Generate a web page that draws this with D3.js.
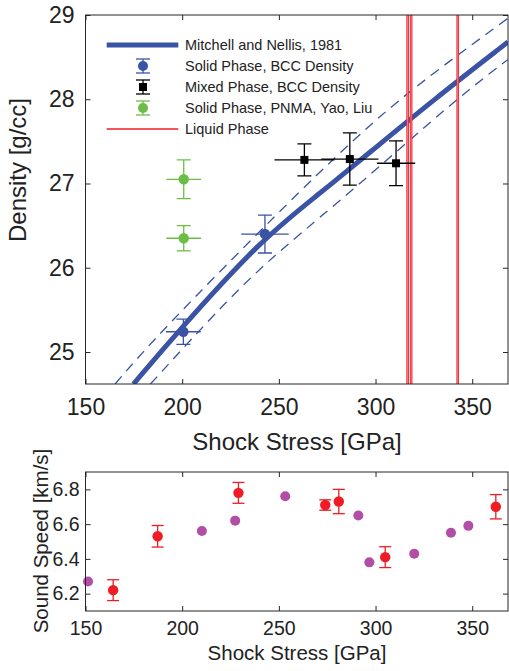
<!DOCTYPE html>
<html>
<head>
<meta charset="utf-8">
<script src="https://cdn.jsdelivr.net/npm/d3@7"></script>
<style>
  body { margin: 0; background: #fff; }
  text { font-family: "Liberation Sans", Arial, sans-serif; fill: #222; }
</style>
</head>
<body>
<script>
// ---- data ----
const stressTicks = [150, 200, 250, 300, 350];
const densityTicks = [25, 26, 27, 28, 29];
const speedTicks = [6.2, 6.4, 6.6, 6.8];

// Mitchell and Nellis 1981 fit and its bounds
const fitStress = [174.8, 198.1, 240.7, 270, 297.1, 329.8, 368.5];
const fitDensity = [24.62, 25.25, 26.33, 26.86, 27.37, 27.99, 28.68];
const upperStress = [165.3, 188.7, 252.4, 288.5, 317.8, 368.4];
const upperDensity = [24.62, 25.24, 26.72, 27.52, 28.11, 28.96];
const lowerStress = [183.6, 224.9, 250.7, 290.3, 341, 368.4];
const lowerDensity = [24.62, 25.66, 26.21, 26.96, 27.99, 28.47];

// Solid phase, BCC
const bccStress = [200.6, 242.8];
const bccDensity = [25.24, 26.40];
const bccStressErr = [9, 12.3];
const bccDensityErr = [0.15, 0.225];

// Mixed phase, BCC
const mixStress = [263.2, 286.7, 310.6];
const mixDensity = [27.28, 27.29, 27.24];
const mixStressErr = [15.5, 14.8, 9.9];
const mixDensityErr = [0.19, 0.31, 0.265];

// Solid phase, PNMA (Yao, Liu)
const pnmaStress = [200.8, 200.8];
const pnmaDensity = [27.05, 26.35];
const pnmaStressErr = [9, 9];
const pnmaDensityErr = [0.23, 0.15];

// Liquid phase
const liquidStress = [316.6, 318.4, 342.5];

// Sound speed panel
const speedAStress = [151.3, 210.2, 227.4, 253.3, 291.1, 296.8, 320, 339, 348];
const speedA = [6.27, 6.56, 6.62, 6.76, 6.65, 6.38, 6.43, 6.55, 6.59];
const speedBStress = [164.3, 187.3, 229.1, 274, 281, 305, 362.2];
const speedB = [6.22, 6.53, 6.78, 6.71, 6.73, 6.41, 6.70];
const speedBErr = [0.06, 0.062, 0.06, 0.03, 0.07, 0.06, 0.07];

const legendLabels = ["Mitchell and Nellis, 1981", "Solid Phase, BCC Density",
  "Mixed Phase, BCC Density", "Solid Phase, PNMA, Yao, Liu", "Liquid Phase"];

// ---- colours ----
const blue = "#3a53a4", green = "#6cbd45", red = "#ee1c25", purple = "#b24ea5", axisCol = "#262626";

const svg = d3.select("body").append("svg")
  .attr("width", 509).attr("height", 671);

// ---- scales ----
const x = d3.scaleLinear().domain([150, 368.5]).range([85.5, 508]);
const yTop = d3.scaleLinear().domain([24.62, 29]).range([384, 15]);
const yBot = d3.scaleLinear().domain([6.1, 6.9]).range([611, 472]);

function frame(y, yTicks, fmt, fs, padX, padY) {
  const [y0, y1] = y.range();
  const [x0, x1] = x.range();
  const g = svg.append("g");
  g.append("g").attr("transform", `translate(0,${y0})`)
    .call(d3.axisBottom(x).tickValues(stressTicks).tickSize(-5).tickSizeOuter(0).tickPadding(padX));
  g.append("g").attr("transform", `translate(0,${y1})`)
    .call(d3.axisTop(x).tickValues(stressTicks).tickSize(-5).tickSizeOuter(0).tickFormat(""));
  g.append("g").attr("transform", `translate(${x0},0)`)
    .call(d3.axisLeft(y).tickValues(yTicks).tickSize(-5).tickSizeOuter(0).tickPadding(padY).tickFormat(fmt));
  g.append("g").attr("transform", `translate(${x1},0)`)
    .call(d3.axisRight(y).tickValues(yTicks).tickSize(-5).tickSizeOuter(0).tickFormat(""));
  g.selectAll(".domain").remove();
  g.selectAll(".tick line").attr("stroke", axisCol);
  g.selectAll(".tick text").style("font-size", fs + "px").attr("fill", "#222");
  g.append("rect").attr("x", x0).attr("y", y1).attr("width", x1 - x0).attr("height", y0 - y1)
    .attr("fill", "none").attr("stroke", axisCol).attr("stroke-width", 1);
}

svg.append("clipPath").attr("id", "clipTop").append("rect")
  .attr("x", 85.5).attr("y", 15).attr("width", 422.5).attr("height", 369);

const topG = svg.append("g").attr("clip-path", "url(#clipTop)");

const line = (xs, ys) => d3.line().x(i => x(xs[i])).y(i => yTop(ys[i]))
  .curve(d3.curveBasis)(d3.range(xs.length));

topG.append("path").attr("d", line(upperStress, upperDensity))
  .attr("fill", "none").attr("stroke", blue).attr("stroke-width", 1.3).attr("stroke-dasharray", "10,7");
topG.append("path").attr("d", line(lowerStress, lowerDensity))
  .attr("fill", "none").attr("stroke", blue).attr("stroke-width", 1.3).attr("stroke-dasharray", "10,7");
topG.append("path").attr("d", line(fitStress, fitDensity))
  .attr("fill", "none").attr("stroke", blue).attr("stroke-width", 5);

// liquid phase lines
liquidStress.forEach(s => {
  topG.append("line").attr("x1", x(s)).attr("x2", x(s)).attr("y1", 15).attr("y2", 384)
    .attr("stroke", red).attr("stroke-width", 2.6);
  topG.append("line").attr("x1", x(s)).attr("x2", x(s)).attr("y1", 15).attr("y2", 384)
    .attr("stroke", "#ffb0b0").attr("stroke-width", 0.7);
});

// error bar groups
function errPoints(g, xs, ys, xe, ye, color, shape, yScale, cap) {
  xs.forEach((s, i) => {
    const cx = x(s), cy = yScale(ys[i]);
    const ln = (a, b, c, d) => g.append("line").attr("x1", a).attr("y1", b).attr("x2", c).attr("y2", d)
      .attr("stroke", color).attr("stroke-width", 1.3);
    if (xe) ln(x(s - xe[i]), cy, x(s + xe[i]), cy);
    const yt = yScale(ys[i] + ye[i]), yb = yScale(ys[i] - ye[i]);
    ln(cx, yt, cx, yb);
    ln(cx - cap, yt, cx + cap, yt);
    ln(cx - cap, yb, cx + cap, yb);
    if (shape === "square") {
      g.append("rect").attr("x", cx - 4).attr("y", cy - 4).attr("width", 8).attr("height", 8).attr("fill", color);
    } else {
      g.append("circle").attr("cx", cx).attr("cy", cy).attr("r", 5.2).attr("fill", color);
    }
  });
}

errPoints(topG, pnmaStress, pnmaDensity, pnmaStressErr, pnmaDensityErr, green, "circle", yTop, 7);
errPoints(topG, bccStress, bccDensity, bccStressErr, bccDensityErr, blue, "circle", yTop, 7);
errPoints(topG, mixStress, mixDensity, mixStressErr, mixDensityErr, "#000", "square", yTop, 7);

frame(yTop, densityTicks, d3.format("d"), 23, 15, 11);

// legend
const lg = svg.append("g");
const rowY = i => 45 + i * 21;
lg.append("line").attr("x1", 106.7).attr("x2", 178.3).attr("y1", rowY(0)).attr("y2", rowY(0))
  .attr("stroke", blue).attr("stroke-width", 5);
lg.append("line").attr("x1", 106.7).attr("x2", 178.3).attr("y1", rowY(4)).attr("y2", rowY(4))
  .attr("stroke", red).attr("stroke-width", 1.6);
[[blue, "circle"], ["#000", "square"], [green, "circle"]].forEach(([c, shp], k) => {
  const cy = rowY(k + 1), cx = 143;
  lg.append("line").attr("x1", cx).attr("x2", cx).attr("y1", cy - 7).attr("y2", cy + 7).attr("stroke", c).attr("stroke-width", 1.3);
  lg.append("line").attr("x1", cx - 7).attr("x2", cx + 7).attr("y1", cy - 7).attr("y2", cy - 7).attr("stroke", c).attr("stroke-width", 1.3);
  lg.append("line").attr("x1", cx - 7).attr("x2", cx + 7).attr("y1", cy + 7).attr("y2", cy + 7).attr("stroke", c).attr("stroke-width", 1.3);
  if (shp === "square") lg.append("rect").attr("x", cx - 4).attr("y", cy - 4).attr("width", 8).attr("height", 8).attr("fill", c);
  else lg.append("circle").attr("cx", cx).attr("cy", cy).attr("r", 5).attr("fill", c);
});
lg.selectAll("text").data(legendLabels).enter().append("text")
  .attr("x", 185).attr("y", (d, i) => rowY(i)).attr("dy", "0.35em")
  .style("font-size", "14.5px").text(d => d);

// top axis titles
svg.append("text").attr("x", 297).attr("y", 450).attr("text-anchor", "middle")
  .style("font-size", "24px").text("Shock Stress [GPa]");
svg.append("text").attr("transform", "translate(26,170) rotate(-90)").attr("text-anchor", "middle")
  .style("font-size", "24px").text("Density [g/cc]");

// ---- sound speed panel ----
const botG = svg.append("g");
speedAStress.forEach((s, i) => {
  botG.append("circle").attr("cx", x(s)).attr("cy", yBot(speedA[i])).attr("r", 5).attr("fill", purple);
});
errPoints(botG, speedBStress, speedB, null, speedBErr, red, "circle", yBot, 6);

frame(yBot, speedTicks, d3.format(".1f"), 19.5, 10, 6);

svg.append("text").attr("x", 297).attr("y", 660).attr("text-anchor", "middle")
  .style("font-size", "20.5px").text("Shock Stress [GPa]");
svg.append("text").attr("transform", "translate(48,541) rotate(-90)").attr("text-anchor", "middle")
  .style("font-size", "20.5px").text("Sound Speed [km/s]");
</script>
</body>
</html>
